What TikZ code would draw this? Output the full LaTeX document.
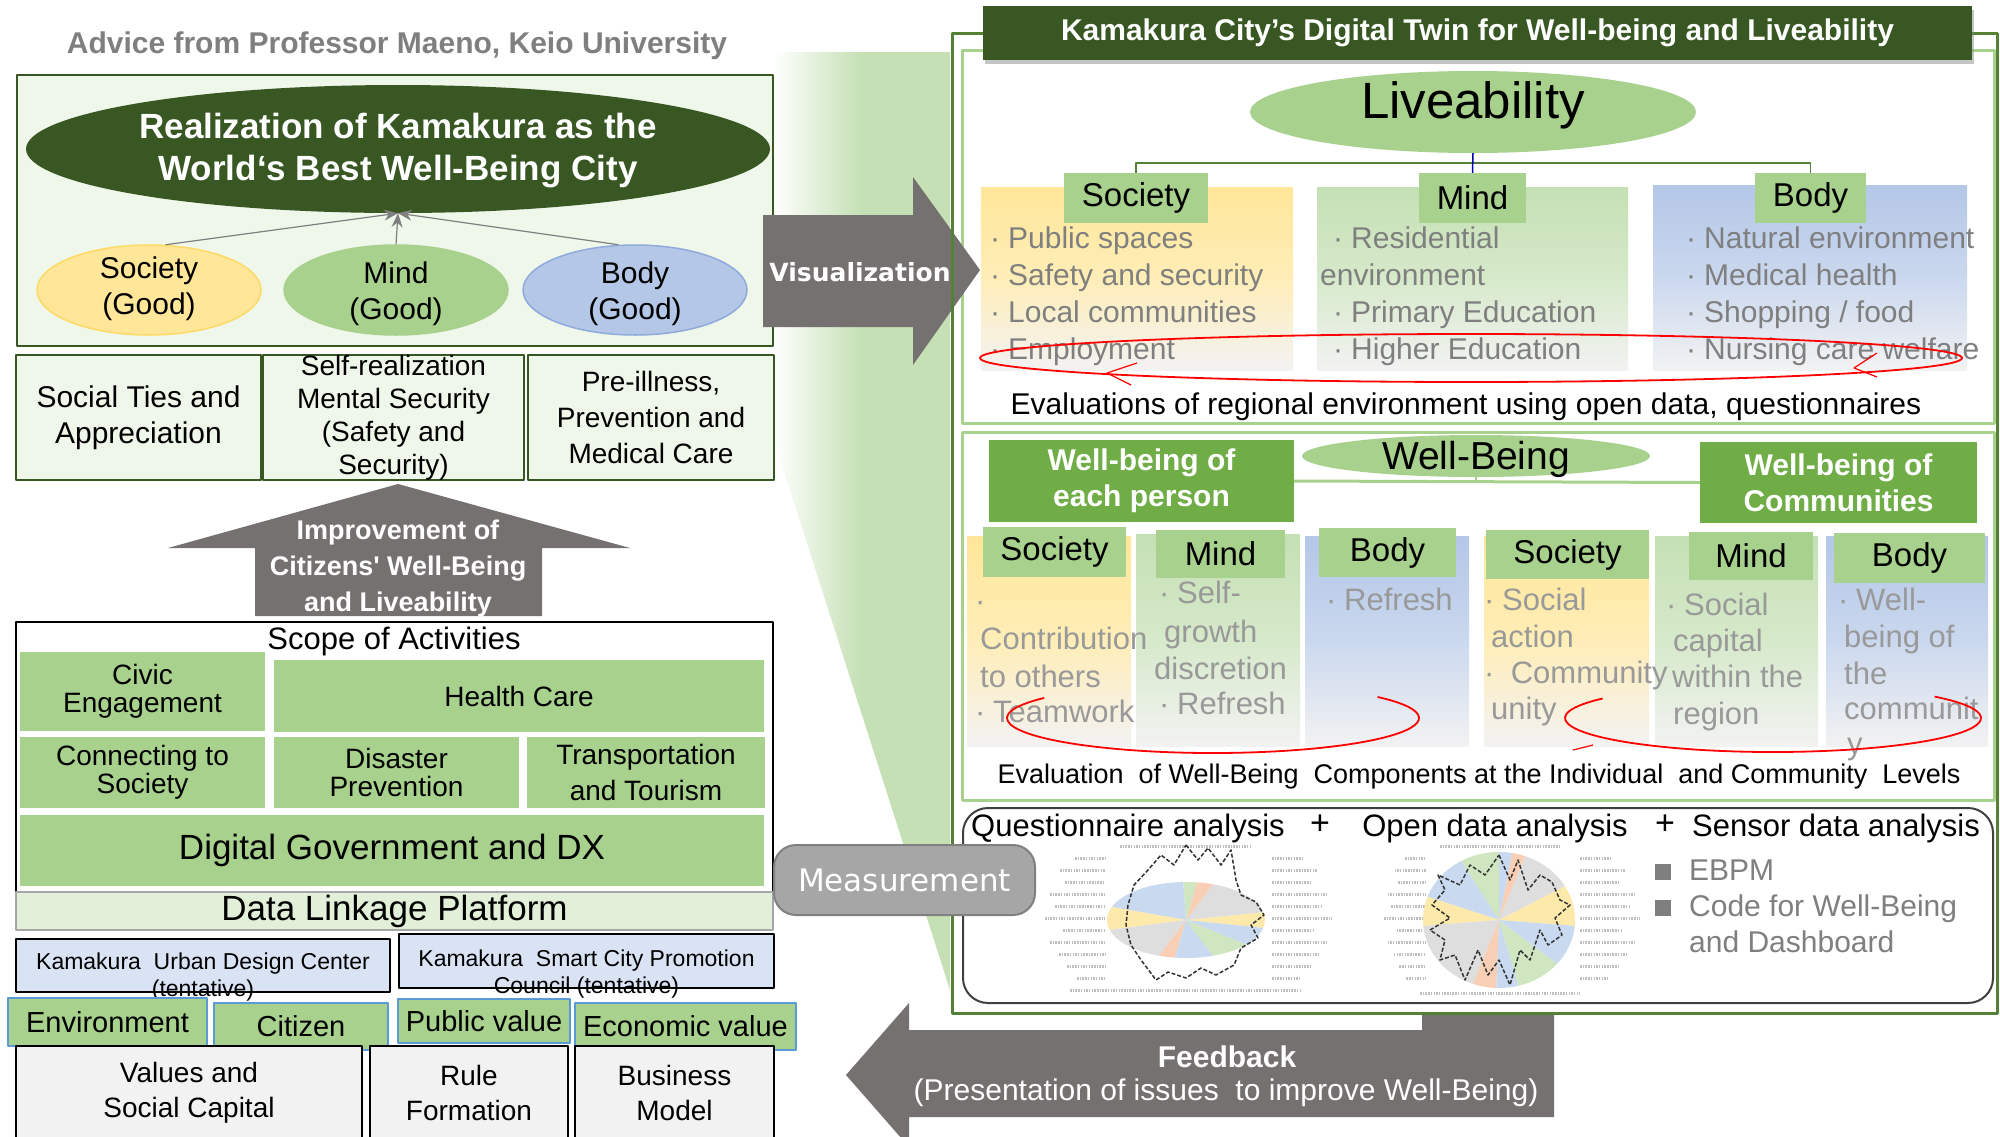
\documentclass[tikz,border=0pt]{standalone}
\usepackage{fontspec}
\setmainfont{Liberation Sans}
\newfontfamily\meiryo{DejaVu Sans}
\usetikzlibrary{shapes.geometric,arrows.meta,shadows}
\definecolor{dkgreen}{HTML}{385723}
\definecolor{midgreen}{HTML}{548235}
\definecolor{lgreen}{HTML}{A9D18E}
\definecolor{wbgreen}{HTML}{70AD47}
\definecolor{palegreen}{HTML}{EFF6EA}
\definecolor{dlgreen}{HTML}{E2F0D9}
\definecolor{wedgegreen}{HTML}{C5E0B4}
\definecolor{yel}{HTML}{FFE699}
\definecolor{yelb}{HTML}{FFD966}
\definecolor{blu}{HTML}{B4C7E7}
\definecolor{blub}{HTML}{8FAADC}
\definecolor{bluebox}{HTML}{DAE3F3}
\definecolor{envblue}{HTML}{5B9BD5}
\definecolor{arrowgray}{HTML}{767171}
\definecolor{txtgray}{HTML}{7F7F7F}
\definecolor{txtgrayl}{HTML}{999999}
\definecolor{boxgray}{HTML}{F2F2F2}
\definecolor{measgray}{HTML}{A6A6A6}
\definecolor{pb}{HTML}{C9DAF0}
\definecolor{py}{HTML}{FDE9AA}
\definecolor{pg}{HTML}{DEDEDE}
\definecolor{po}{HTML}{F8CFB4}
\definecolor{pgr}{HTML}{CFE6C0}
\newcommand{\fs}[2]{\fontsize{#1}{#2}\selectfont}
\newcommand{\bu}{\makebox[18pt][l]{·}}
\begin{document}
\begin{tikzpicture}
[
 x=1pt, y=-1pt,
 inner sep=0pt,
 line join=round,
 PANEL/.style={rectangle, draw=dkgreen, fill=palegreen, line width=2pt, align=center, font=\fs{28}{36}},
 GOOD/.style={ellipse, line width=1.5pt, minimum width=224pt, minimum height=90pt},
 GOODT/.style={align=center, font=\fs{30}{36}},
 LEAF/.style={rectangle, fill=lgreen, align=center, font=\fs{28}{28}},
 ORG/.style={rectangle, draw=black, fill=bluebox, line width=1.5pt},
 ORGT/.style={align=center, font=\fs{23}{27}},
 VAL/.style={rectangle, draw=envblue, fill=lgreen, line width=1.5pt, font=\fs{29}{34}},
 BASE/.style={rectangle, draw=black, fill=boxgray, line width=1.5pt, align=center, font=\fs{28}{35}},
 HEAD/.style={rectangle, fill=lgreen, font=\fs{33}{38}},
 COL/.style={rectangle, top color=#1, bottom color=white!95!black, middle color=#1!70!white},
 ITEM/.style={anchor=west, text=txtgray, font=\fs{30}{36}, text height=22pt, text depth=6pt},
 ITEMB/.style={ITEM, text=txtgrayl, font=\fs{31}{37}},
 WBBOX/.style={rectangle, fill=wbgreen, text=white, align=center, font=\fs{30}{36}\bfseries},
 GARROW/.style={draw=txtgray, line width=1.2pt, -{Stealth[length=14pt,width=11pt]}},
 REDLINE/.style={draw=red, line width=1.8pt},
 TREE/.style={draw=midgreen, line width=1.8pt},
 TINY/.style={draw=black!25, line width=3pt, dash pattern=on 1.5pt off 1.2pt},
 JAG/.style={draw=black!80, line width=1.5pt, dash pattern=on 4pt off 2pt},
 ]
%
\useasboundingbox (0,0) rectangle (2000,1136);
\fill[white] (0,0) rectangle (2000,1136);
%
% green wedge behind the visualization arrow
\shade[left color=white, right color=wedgegreen, middle color=wedgegreen]
  (773,52) -- (950,52) -- (950,990) -- (774,440) -- cycle;
%
% ---------------- left column ----------------
\node[font=\fs{30}{34}\bfseries, text=txtgray] (advice) at (397,46) {Advice from Professor Maeno, Keio University};
\node[PANEL, minimum width=756pt, minimum height=271pt] (goal) at (395,210.5) {};
\node[ellipse, fill=dkgreen, minimum width=744pt, minimum height=128pt] (real) at (398,149) {};
\node[text=white, align=center, font=\fs{35}{42}\bfseries] (realt) at (398,151) {Realization of Kamakura as the\\World‘s Best Well-Being City};
%
\node[GOOD, fill=yel, draw=yelb]     (soc)  at (149,290) {};
\node[GOOD, fill=lgreen, draw=lgreen] (mind) at (396,290) {};
\node[GOOD, fill=blu, draw=blub]     (body) at (635,290) {};
\node[GOODT] (soct)  at (149,289) {Society\\(Good)};
\node[GOODT] (mindt) at (396,294) {Mind\\(Good)};
\node[GOODT] (bodyt) at (635,294) {Body\\(Good)};
%
\draw[GARROW] (soc.70)   -- (real.south);
\draw[GARROW] (body.110) -- (real.south);
\draw[GARROW] (mind.north) -- (real.south);
%
\node[PANEL, minimum width=245pt, minimum height=125pt, font=\fs{30}{36}] (ties) at (138.5,417.5) {Social Ties and\\Appreciation};
\node[PANEL, minimum width=261pt, minimum height=125pt] (self) at (393.5,417.5) {};
\node[align=center, font=\fs{28}{33}] (selft) at (393.5,418) {Self-realization\\Mental Security\\(Safety and\\Security)};
\node[PANEL, minimum width=246pt, minimum height=125pt] (prev) at (651,417.5) {Pre-illness,\\Prevention and\\Medical Care};
%
\fill[arrowgray] (398,484) -- (630,548) -- (542,548) -- (542,616) -- (255,616) -- (255,548) -- (168,548) -- cycle;
\node[text=white, align=center, font=\fs{27}{36}\bfseries] (impr) at (398,569) {Improvement of\\Citizens\textquotesingle\ Well-Being\\and Liveability};
%
\node[rectangle, draw=black, fill=white, line width=2pt, minimum width=757pt, minimum height=270pt] (scope) at (394.5,757) {};
\node[font=\fs{31}{34}] (scopet) at (394,641) {Scope of Activities};
\node[LEAF, minimum width=245pt, minimum height=79pt] (civic)  at (142.5,691.5) {Civic\\Engagement};
\node[LEAF, minimum width=490pt, minimum height=72pt] (health) at (519,696) {Health Care};
\node[LEAF, minimum width=245pt, minimum height=71pt] (conn)   at (142.5,772.5) {Connecting to\\Society};
\node[LEAF, minimum width=245pt, minimum height=71pt] (disas)  at (396.5,772.5) {Disaster\\Prevention};
\node[LEAF, minimum width=238pt, minimum height=71pt, font=\fs{28}{36}] (trans) at (646,772.5) {Transportation\\and Tourism};
\node[LEAF, minimum width=744pt, minimum height=71pt, font=\fs{35}{40}] (dx) at (392,850.5) {Digital Government and DX};
\node[rectangle, draw=black!35, fill=dlgreen, line width=2pt, minimum width=757pt, minimum height=38pt, font=\fs{35}{40}] (dlp) at (394.5,911) {Data Linkage Platform};
%
\node[ORG, minimum width=374pt, minimum height=53pt] (udc)  at (203,965.5) {};
\node[ORGT] (udct)  at (203,977) {Kamakura\ \ Urban Design Center\\(tentative)};
\node[ORG, minimum width=375pt, minimum height=54pt] (scpc) at (586.5,961) {};
\node[ORGT] (scpct) at (586.5,974) {Kamakura\ \ Smart City Promotion\\Council (tentative)};
%
\node[VAL, minimum width=199pt, minimum height=48pt] (env)  at (107.5,1022) {Environment};
\node[VAL, minimum width=174pt, minimum height=47pt] (citz) at (301,1026.5) {Citizen};
\node[VAL, minimum width=172pt, minimum height=44pt] (pubv) at (484,1021) {Public value};
\node[VAL, minimum width=221pt, minimum height=47pt] (econ) at (685.5,1026.5) {Economic value};
%
\node[BASE, minimum width=346pt, minimum height=94pt] (vsc)  at (189,1093) {Values and\\Social Capital};
\node[BASE, minimum width=198pt, minimum height=94pt] (rule) at (469,1093) {Rule\\Formation};
\node[BASE, minimum width=199pt, minimum height=94pt] (bmod) at (674.5,1093) {Business\\Model};
%
% ---------------- liveability panel ----------------
\node[rectangle, draw=lgreen, line width=3pt, minimum width=1032pt, minimum height=373pt] (livp) at (1478,236.5) {};
\node[ellipse, fill=lgreen, minimum width=446pt, minimum height=82pt] (lv) at (1473,112) {};
\node[font=\fs{51}{56}] (lvt) at (1473,105) {Liveability};
%
\node[COL=yel,        minimum width=312pt, minimum height=183pt] (lsc) at (1137,278.5) {};
\node[COL=wedgegreen, minimum width=311pt, minimum height=183pt] (lmc) at (1472.5,278.5) {};
\node[COL=blu,        minimum width=314pt, minimum height=185pt] (lbc) at (1810,277.5) {};
%
\coordinate (lvj) at (1473,163);
\node[HEAD, minimum width=144pt, minimum height=50pt] (lsh) at (1136,198) {Society};
\node[HEAD, minimum width=107pt, minimum height=50pt] (lmh) at (1472.5,198) {Mind};
\node[HEAD, minimum width=111pt, minimum height=50pt] (lbh) at (1810.5,198) {Body};
\draw[TREE] (lsh.north) |- (lvj) -| (lbh.north);
\draw[draw=blue!70!black, line width=1.5pt] (lv.south) -- (lmh.north);
%
\foreach \t [count=\i] in {\bu Public spaces, \bu Safety and security, \bu Local communities, \bu Employment}
  \node[ITEM] (ls\i) at (990,{240+37*(\i-1)}) {\t};
\foreach \xx/\t [count=\i] in {1333/\bu Residential, 1320/environment, 1333/\bu Primary Education, 1333/\bu Higher Education}
  \node[ITEM] (lm\i) at (\xx,{240+37*(\i-1)}) {\t};
\foreach \t [count=\i] in {\bu Natural environment, \bu Medical health, {\bu Shopping / food}, \bu Nursing care welfare}
  \node[ITEM] (lb\i) at (1686,{240+37*(\i-1)}) {\t};
%
\draw[REDLINE] (1471,358) ellipse [x radius=491pt, y radius=24pt];
\draw[REDLINE, line width=1.2pt] (1137,363) -- (1107,373) -- (1131,385);
\draw[REDLINE, line width=1.2pt] (1877,353) -- (1854,368) -- (1877,377);
\node[font=\fs{30}{34}] (evl) at (1466,407) {Evaluations of regional environment using open data, questionnaires};
%
% ---------------- well-being panel ----------------
\node[rectangle, draw=lgreen, line width=3pt, minimum width=1032pt, minimum height=368pt] (wbpanel) at (1478,616) {};
\node[ellipse, fill=lgreen, minimum width=348pt, minimum height=42pt] (wb) at (1476,456) {};
\node[font=\fs{39}{44}] (wbt) at (1476,459) {Well-Being};
\node[WBBOX, minimum width=305pt, minimum height=82pt] (wbp) at (1141.5,481) {Well-being of\\each person};
\node[WBBOX, minimum width=277pt, minimum height=81pt] (wbc) at (1838.5,482.5) {Well-being of\\Communities};
\coordinate (wbj) at (1476,483);
\draw[draw=lgreen, line width=3pt] (wbp.east) -- (wbc.west);
\draw[draw=lgreen, line width=2pt] (wb.south) -- (wbj);
%
\node[COL=yel,        minimum width=164pt, minimum height=210pt] (c1) at (1049,641) {};
\node[COL=wedgegreen, minimum width=164pt, minimum height=212pt] (c2) at (1218,640) {};
\node[COL=blu,        minimum width=164pt, minimum height=210pt] (c3) at (1387,641) {};
\node[COL=yel,        minimum width=165pt, minimum height=210pt] (c4) at (1566.5,641) {};
\node[COL=wedgegreen, minimum width=163pt, minimum height=210pt] (c5) at (1736.5,641) {};
\node[COL=blu,        minimum width=162pt, minimum height=210pt] (c6) at (1907,641) {};
%
\node[HEAD, minimum width=143pt, minimum height=50pt] (s1h) at (1054.5,552) {Society};
\node[HEAD, minimum width=129pt, minimum height=48pt] (m1h) at (1220.5,554) {Mind};
\node[HEAD, minimum width=137pt, minimum height=49pt] (b1h) at (1387.5,552.5) {Body};
\node[HEAD, minimum width=163pt, minimum height=49pt] (s2h) at (1567.5,554.5) {Society};
\node[HEAD, minimum width=124pt, minimum height=48pt] (m2h) at (1751,556) {Mind};
\node[HEAD, minimum width=151pt, minimum height=50pt] (b2h) at (1909.5,558) {Body};
%
\foreach \xx/\yy/\t [count=\i] in {975/603/\bu, 980/641/Contribution, 980/679/to others, 975/714/\bu Teamwork,
    1159/595/\bu Self-, 1164/634/growth, 1154/671/discretion, 1159/706/\bu Refresh,
    1326/602/\bu Refresh,
    1484/602/\bu Social, 1491/639/action, 1484/675/\bu\ Community, 1491/711/unity,
    1666/607/\bu Social, 1673/643/capital, 1672/679/within the, 1673/716/region,
    1838/602/\bu Well-, 1844/639/being of, 1844/676/the, 1844/711/communit, 1847/746/y}
  \node[ITEMB] (wi\i) at (\xx,\yy) {\t};
%
\draw[REDLINE] (1213,718) ++(145:206pt and 35pt) arc[start angle=145, end angle=397, x radius=206pt, y radius=35pt];
\draw[REDLINE] (1773,718) ++(145:208pt and 34pt) arc[start angle=145, end angle=399, x radius=208pt, y radius=34pt];
\draw[REDLINE, line width=1.2pt] (1573,750) -- (1593,745);
\node[font=\fs{27}{32}] (evw) at (1479,777) {Evaluation\ \ of Well-Being\ \ Components at the Individual\ \ and Community\ \ Levels};
%
% ---------------- analysis panel ----------------
\node[rectangle, rounded corners=25pt, draw=black!75, fill=white, line width=2pt, minimum width=1030pt, minimum height=195pt] (anl) at (1478,905.5) {};
\node[font=\fs{31}{36}] (qa)    at (1128,828) {Questionnaire analysis};
\node[font=\fs{34}{36}] (plus1) at (1320,825) {+};
\node[font=\fs{31}{36}] (oda)   at (1495,828) {Open data analysis};
\node[font=\fs{34}{36}] (plus2) at (1665,825) {+};
\node[font=\fs{31}{36}] (sda)   at (1836,828) {Sensor data analysis};
%
\foreach \yy/\l in {858/30, 870/45, 882/40, 894/55, 906/50, 918/60, 930/42, 942/55, 954/46, 966/38, 978/28}
 {
  \draw[TINY] ({1105-\l},\yy) -- (1105,\yy);
  \draw[TINY] (1272,\yy) -- ({1272+\l},\yy);
  \draw[TINY] ({1426-0.7*\l},\yy) -- (1426,\yy);
  \draw[TINY] (1580,\yy) -- ({1580+\l},\yy);
 }
\draw[TINY] (1120,846) -- (1250,846);
\draw[TINY] (1070,990) -- (1300,990);
\draw[TINY] (1440,846) -- (1560,846);
\draw[TINY] (1420,993) -- (1580,993);
%
\coordinate (qc) at (1186,920);
\foreach \a/\b/\c in {-12/12/py, 12/70/pg, 70/82/po, 82/92/pgr, 92/160/pb, 160/195/py, 195/250/pg, 250/262/po, 262/290/pb, 290/320/pgr, 320/348/pb}
  \fill[\c] (qc) -- ++(\a:79pt and 38pt) arc[start angle=\a, end angle=\b, x radius=79pt, y radius=38pt] -- cycle;
\draw[JAG] (1186,845) -- (1198,860) -- (1208,848) -- (1221,865) -- (1231,850) -- (1236,880) -- (1241,895) -- (1256,902)
  -- (1264,915) -- (1251,925) -- (1258,938) -- (1241,948) -- (1234,965) -- (1216,975) -- (1201,968) -- (1186,978)
  -- (1168,972) -- (1156,980) -- (1141,960) -- (1131,945) -- (1126,925) -- (1128,905) -- (1134,885) -- (1148,870)
  -- (1161,855) -- (1174,865) -- cycle;
%
\coordinate (oc) at (1499,920);
\foreach \a/\b/\c in {-5/30/py, 30/70/pg, 70/80/po, 80/90/pb, 90/120/pgr, 120/160/pb, 160/185/py, 185/250/pg, 250/268/po, 268/285/pb, 285/320/pgr, 320/355/pb}
  \fill[\c] (oc) -- ++(\a:76pt and 68pt) arc[start angle=\a, end angle=\b, x radius=76pt, y radius=68pt] -- cycle;
\draw[JAG] (1499,855) -- (1510,880) -- (1518,860) -- (1528,890) -- (1540,875) -- (1552,882) -- (1560,900) -- (1570,905)
  -- (1555,918) -- (1562,935) -- (1548,945) -- (1540,930) -- (1530,960) -- (1520,950) -- (1510,985) -- (1499,960)
  -- (1488,975) -- (1478,950) -- (1465,980) -- (1455,955) -- (1440,960) -- (1445,940) -- (1430,930) -- (1450,918)
  -- (1432,905) -- (1445,890) -- (1438,875) -- (1460,885) -- (1470,865) -- (1485,875) -- cycle;
%
\node[ITEM] (ebpm) at (1655,872) {\rule{16pt}{16pt}\hspace{18pt}EBPM};
\node[ITEM] (cwb)  at (1655,908) {\rule{16pt}{16pt}\hspace{18pt}Code for Well-Being};
\node[ITEM] (dash) at (1689,944) {and Dashboard};
%
% ---------------- arrows and frame ----------------
\fill[arrowgray] (763,215) -- (913,215) -- (913,177) -- (980,270) -- (913,365) -- (913,327) -- (763,327) -- cycle;
\node[text=white, font=\meiryo\bfseries\fs{25}{30}] (vist) at (860,272) {Visualization};
%
\draw[draw=midgreen, line width=3pt] (952,33) rectangle (1997,1013);
\node[rectangle, fill=dkgreen, minimum width=989pt, minimum height=54pt,
      drop shadow={shadow xshift=2pt, shadow yshift=-4pt, opacity=0.45},
      text=white, font=\fs{30}{36}\bfseries] (title) at (1477.5,33) {Kamakura City’s Digital Twin for Well-being and Liveability};
%
\node[rectangle, rounded corners=22pt, fill=measgray, draw=black!50, line width=2pt, minimum width=261pt, minimum height=70pt,
      text=white, font=\meiryo\fs{31}{36}] (meas) at (904.5,880) {Measurement};
%
\fill[arrowgray] (846,1075) -- (909,1003) -- (909,1030) -- (1422,1030) -- (1422,1015) -- (1554,1015) -- (1554,1117)
  -- (909,1117) -- (909,1147) -- cycle;
\node[text=white, font=\fs{30}{36}\bfseries] (fbt) at (1227,1057) {Feedback};
\node[text=white, font=\fs{30}{34}] (fbs) at (1226,1093) {(Presentation of issues\ \ to improve Well-Being)};
%
\end{tikzpicture}
\end{document}
